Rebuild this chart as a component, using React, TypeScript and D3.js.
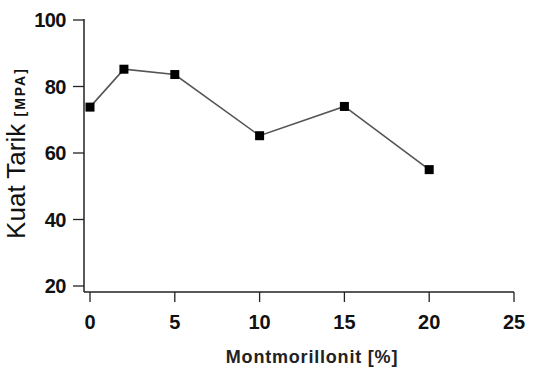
import React, { useEffect, useRef } from 'react';
import * as d3 from 'd3';

const montmorillonit = [0, 2, 5, 10, 15, 20];
const kuatTarik = [73.8, 85.2, 83.6, 65.2, 74.0, 55.0];
const xTicks = [0, 5, 10, 15, 20, 25];
const yTicks = [20, 40, 60, 80, 100];

const width = 544;
const height = 372;

const App = () => {
  const svgRef = useRef<SVGSVGElement>(null);

  useEffect(() => {
    const svg = d3.select(svgRef.current);
    svg.selectAll('*').remove();

    const font = '"Liberation Sans", Arial, sans-serif';

    const xScale = d3.scaleLinear().domain([0, 25]).range([90, 514]);
    const yScale = d3.scaleLinear().domain([20, 100]).range([286, 20]);

    // Y axis
    const yAxis = svg.append('g').attr('transform', 'translate(84,0)');
    yAxis.append('line')
      .attr('x1', 0).attr('x2', 0)
      .attr('y1', yScale(100) - 1).attr('y2', 292)
      .attr('stroke', '#222').attr('stroke-width', 1.5);
    yAxis.selectAll('.ytick')
      .data(yTicks)
      .join('line')
      .attr('x1', -11).attr('x2', 0)
      .attr('y1', d => yScale(d)).attr('y2', d => yScale(d))
      .attr('stroke', '#222').attr('stroke-width', 1.3);
    yAxis.selectAll('.ylabel')
      .data(yTicks)
      .join('text')
      .attr('x', -18)
      .attr('y', d => yScale(d))
      .attr('dy', '0.36em')
      .attr('text-anchor', 'end')
      .style('font-family', font)
      .style('font-size', '20px')
      .style('font-weight', 'bold')
      .style('letter-spacing', '-0.5px')
      .style('fill', '#111')
      .text(d => d);

    // X axis
    const xAxis = svg.append('g').attr('transform', 'translate(0,292)');
    xAxis.append('line')
      .attr('x1', 84).attr('x2', xScale(25))
      .attr('y1', 0).attr('y2', 0)
      .attr('stroke', '#222').attr('stroke-width', 1.5);
    xAxis.selectAll('.xtick')
      .data(xTicks)
      .join('line')
      .attr('x1', d => xScale(d)).attr('x2', d => xScale(d))
      .attr('y1', 0).attr('y2', 10)
      .attr('stroke', '#222').attr('stroke-width', 1.3);
    xAxis.selectAll('.xlabel')
      .data(xTicks)
      .join('text')
      .attr('x', d => xScale(d))
      .attr('y', 30)
      .attr('dy', '0.36em')
      .attr('text-anchor', 'middle')
      .style('font-family', font)
      .style('font-size', '20px')
      .style('font-weight', 'bold')
      .style('fill', '#111')
      .text(d => d);

    // Axis titles
    svg.append('text')
      .attr('x', 312)
      .attr('y', 357)
      .attr('dy', '0.36em')
      .attr('text-anchor', 'middle')
      .style('font-family', font)
      .style('font-size', '18px')
      .style('font-weight', 'bold')
      .style('letter-spacing', '0.8px')
      .style('fill', '#222')
      .text('Montmorillonit [%]');

    const yTitle = svg.append('text')
      .attr('transform', 'translate(25,153) rotate(-90)')
      .attr('text-anchor', 'middle')
      .style('font-family', font)
      .style('fill', '#111');
    yTitle.append('tspan').style('font-size', '26px').text('Kuat Tarik ');
    yTitle.append('tspan')
      .style('font-size', '14px')
      .style('font-weight', 'bold')
      .style('letter-spacing', '2px')
      .text('[MPA]');

    // Line + markers
    const points = montmorillonit.map((m, i) => ({ x: m, y: kuatTarik[i] }));
    const line = d3.line<{ x: number; y: number }>()
      .x(d => xScale(d.x))
      .y(d => yScale(d.y));

    svg.append('path')
      .datum(points)
      .attr('fill', 'none')
      .attr('stroke', '#555')
      .attr('stroke-width', 1.6)
      .attr('d', line);

    const size = 9;
    svg.selectAll('.marker')
      .data(points)
      .join('rect')
      .attr('x', d => xScale(d.x) - size / 2)
      .attr('y', d => yScale(d.y) - size / 2)
      .attr('width', size)
      .attr('height', size)
      .attr('fill', '#000');
  }, []);

  return (
    <svg
      ref={svgRef}
      width={width}
      height={height}
      style={{ position: 'absolute', left: 0, top: 0, background: '#fff' }}
    />
  );
};

export default App;
